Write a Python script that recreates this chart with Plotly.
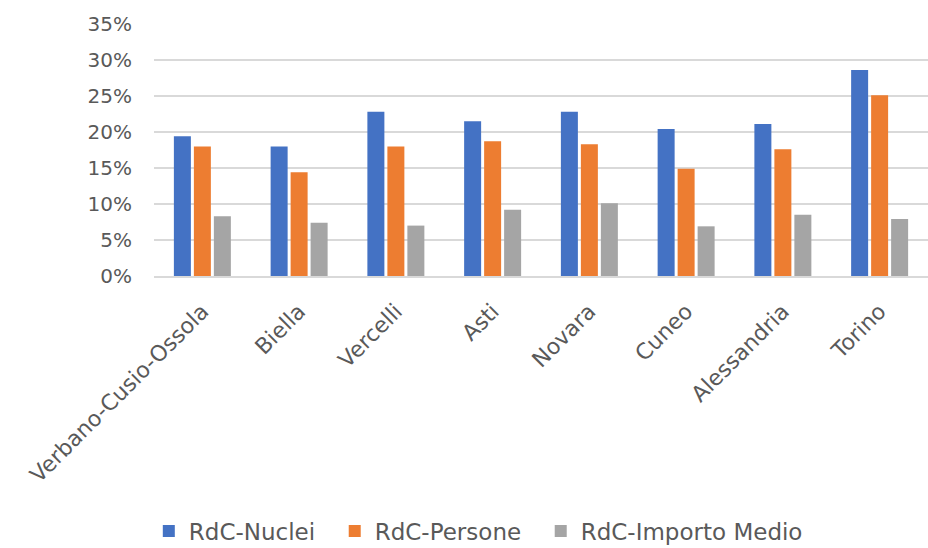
import plotly.graph_objects as go

categories = ["Verbano-Cusio-Ossola", "Biella", "Vercelli", "Asti", "Novara", "Cuneo", "Alessandria", "Torino"]
rdc_nuclei = [0.194, 0.180, 0.228, 0.215, 0.228, 0.204, 0.211, 0.286]
rdc_persone = [0.180, 0.144, 0.180, 0.187, 0.183, 0.149, 0.176, 0.251]
rdc_importo = [0.083, 0.074, 0.070, 0.092, 0.101, 0.069, 0.085, 0.079]
y_ticks = [0, 0.05, 0.10, 0.15, 0.20, 0.25, 0.30, 0.35]
y_tick_labels = ["0%", "5%", "10%", "15%", "20%", "25%", "30%", "35%"]
series_names = ["RdC-Nuclei", "RdC-Persone", "RdC-Importo Medio"]

FONT = "DejaVu Sans"
TXT = "#595959"
PAD = "\u00a0\u00a0"

fig = go.Figure()
fig.add_trace(go.Bar(name=series_names[0] + PAD, x=categories, y=rdc_nuclei, marker_color="#4472C4", marker_line_width=0))
fig.add_trace(go.Bar(name=series_names[1] + PAD, x=categories, y=rdc_persone, marker_color="#ED7D31", marker_line_width=0))
fig.add_trace(go.Bar(name=series_names[2], x=categories, y=rdc_importo, marker_color="#A5A5A5", marker_line_width=0))

fig.update_layout(
    width=928, height=548,
    margin=dict(l=154, r=0, t=24, b=272, autoexpand=False),
    paper_bgcolor="white", plot_bgcolor="white",
    barmode="group", bargap=0.38, bargroupgap=0.15,
    font=dict(family=FONT, color=TXT),
    showlegend=True,
    legend=dict(orientation="h", x=0.419, xanchor="center", y=-1.012, yanchor="middle",
                font=dict(family=FONT, size=23, color=TXT), bgcolor="rgba(0,0,0,0)"),
)
fig.update_yaxes(range=[0, 0.35], tickvals=y_ticks, ticktext=y_tick_labels,
                 showgrid=True, gridcolor="#D9D9D9", gridwidth=1.5, zeroline=False,
                 showline=False, ticks="", ticklabelstandoff=21,
                 tickfont=dict(family=FONT, size=20, color=TXT), fixedrange=True)
fig.update_xaxes(tickangle=-45, showline=True, linecolor="#D9D9D9", linewidth=1.5,
                 showgrid=False, ticks="", ticklabelstandoff=12,
                 tickfont=dict(family=FONT, size=22, color=TXT), fixedrange=True)

fig.write_html("out.html")
